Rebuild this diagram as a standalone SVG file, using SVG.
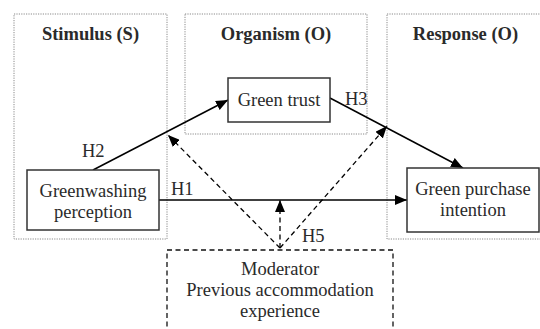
<svg xmlns="http://www.w3.org/2000/svg" width="540" height="329" viewBox="0 0 540 329">
  <defs>
    <style>
      .panel { fill: none; stroke: #8a8a8a; stroke-width: 1; stroke-dasharray: 1.2 1.2; }
      .node { fill: #fff; stroke: #333; stroke-width: 1.5; }
      .mod { fill: none; stroke: #111; stroke-width: 1.3; stroke-dasharray: 5 3.5; }
      text { font-size: 18.5px; fill: #2a2a2a; text-anchor: middle; }
      .h { font-weight: bold; }
      .lbl { text-anchor: start; }
      .solid { stroke: #000; stroke-width: 1.5; fill: none; }
      .dash { stroke: #000; stroke-width: 1.3; fill: none; stroke-dasharray: 5 3.5; }
    </style>
    <marker id="ah" viewBox="0 0 12 10" refX="12" refY="5" markerWidth="12" markerHeight="10" markerUnits="userSpaceOnUse" orient="auto">
      <path d="M0,0 L12,5 L0,10 Z" fill="#000"/>
    </marker>
  </defs>

  <g font-family="Liberation Serif, serif">
  <g id="panels">
    <rect class="panel" x="14" y="14" width="153" height="225"/>
    <rect class="panel" x="185" y="14" width="182" height="120"/>
    <rect class="panel" x="387" y="14" width="160" height="225"/>
    <text class="h" x="90.5" y="40">Stimulus (S)</text>
    <text class="h" x="276" y="40">Organism (O)</text>
    <text class="h" x="465.5" y="40">Response (O)</text>
  </g>

  <g id="connectors">
    <line class="solid" x1="93" y1="170" x2="228" y2="100" marker-end="url(#ah)"/>
    <line class="solid" x1="330" y1="98" x2="463" y2="168" marker-end="url(#ah)"/>
    <line class="solid" x1="159" y1="200" x2="407" y2="200" marker-end="url(#ah)"/>
    <line class="dash" x1="280" y1="248" x2="168" y2="135" marker-end="url(#ah)"/>
    <line class="dash" x1="280" y1="248" x2="387" y2="126" marker-end="url(#ah)"/>
    <line class="dash" x1="280" y1="248" x2="280" y2="200" marker-end="url(#ah)"/>
    <text class="lbl" x="82" y="157">H2</text>
    <text class="lbl" x="345" y="105">H3</text>
    <text class="lbl" x="171" y="195">H1</text>
    <text class="lbl" x="302" y="242">H5</text>
  </g>

  <g id="green-trust">
    <rect class="node" x="228" y="78" width="102" height="44"/>
    <text x="279" y="106">Green trust</text>
  </g>

  <g id="greenwashing-perception">
    <rect class="node" x="27" y="170" width="132" height="60"/>
    <text x="93" y="197">Greenwashing</text>
    <text x="93" y="218">perception</text>
  </g>

  <g id="green-purchase-intention">
    <rect class="node" x="407" y="168" width="132" height="64"/>
    <text x="473" y="195">Green purchase</text>
    <text x="473" y="216">intention</text>
  </g>

  <g id="moderator">
    <path class="mod" d="M167,335 L167,250 L393,250 L393,335"/>
    <text x="280" y="275">Moderator</text>
    <text x="280" y="296">Previous accommodation</text>
    <text x="280" y="317">experience</text>
  </g>
  </g>
</svg>
